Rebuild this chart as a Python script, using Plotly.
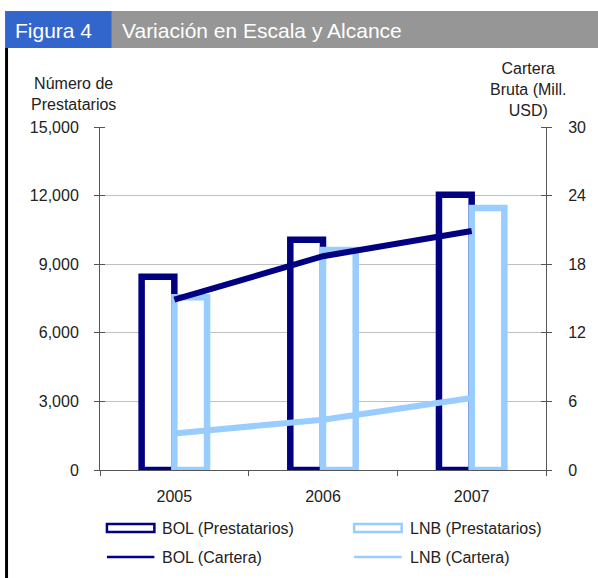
import plotly.graph_objects as go

# ---- data ----
years = ["2005", "2006", "2007"]
bol_prestatarios = [8450, 10070, 12040]
lnb_prestatarios = [7560, 9620, 11460]
bol_cartera = [14.9, 18.7, 20.9]
lnb_cartera = [3.2, 4.4, 6.3]
left_ticks = [0, 3000, 6000, 9000, 12000, 15000]
right_ticks = [0, 6, 12, 18, 24, 30]

NAVY = "#000080"
LIGHT = "#99ccff"
FONT = "Liberation Sans, Arial, sans-serif"
TXT = "#222222"
AX = "#555555"

W, H = 598, 578
L, R, T, B = 100, 47, 127, 108
PW = W - L - R
PH = H - T - B


def px(x):
    return (x - L) / PW


def py(y):
    return (H - B - y) / PH


fig = go.Figure()
fig.add_trace(go.Bar(x=years, y=bol_prestatarios, name="BOL (Prestatarios)",
                     marker=dict(color="white", line=dict(color=NAVY, width=6.5)),
                     yaxis="y"))
fig.add_trace(go.Bar(x=years, y=lnb_prestatarios, name="LNB (Prestatarios)",
                     marker=dict(color="white", line=dict(color=LIGHT, width=6.5)),
                     yaxis="y"))
fig.add_trace(go.Scatter(x=years, y=lnb_cartera, name="LNB (Cartera)", mode="lines",
                         line=dict(color=LIGHT, width=6), yaxis="y2"))
fig.add_trace(go.Scatter(x=years, y=bol_cartera, name="BOL (Cartera)", mode="lines",
                         line=dict(color=NAVY, width=6), yaxis="y2"))

shapes = []
annotations = []

# title bar
shapes.append(dict(type="rect", xref="paper", yref="paper", x0=px(4), x1=px(112), y0=py(11), y1=py(48),
                   fillcolor="#3366cc", line=dict(width=0), layer="below"))
shapes.append(dict(type="rect", xref="paper", yref="paper", x0=px(112), x1=px(620), y0=py(11), y1=py(48),
                   fillcolor="#969696", line=dict(width=0), layer="below"))
# left black border
shapes.append(dict(type="rect", xref="paper", yref="paper", x0=px(4), x1=px(7), y0=py(48), y1=py(590),
                   fillcolor="black", line=dict(width=0), layer="below"))

annotations.append(dict(text="Figura 4", xref="paper", yref="paper", x=px(12), y=py(30),
                        xanchor="left", yanchor="middle", showarrow=False,
                        font=dict(family=FONT, size=21, color="white")))
annotations.append(dict(text="Variación en Escala y Alcance", xref="paper", yref="paper", x=px(120), y=py(30),
                        xanchor="left", yanchor="middle", showarrow=False,
                        font=dict(family=FONT, size=21, color="white")))

# axis titles
annotations.append(dict(text="Número de<br>Prestatarios", xref="paper", yref="paper", x=px(73.5), y=py(94),
                        xanchor="center", yanchor="middle", showarrow=False, align="center",
                        font=dict(family=FONT, size=16, color=TXT)))
annotations.append(dict(text="Cartera<br>Bruta (Mill.<br>USD)", xref="paper", yref="paper", x=px(533), y=py(89),
                        xanchor="center", yanchor="middle", showarrow=False, align="center",
                        font=dict(family=FONT, size=16, color=TXT)))

# manual legend
legend_items = [
    ("BOL (Prestatarios)", NAVY, "rect", 107, 528),
    ("LNB (Prestatarios)", LIGHT, "rect", 357, 528),
    ("BOL (Cartera)", NAVY, "line", 107, 557),
    ("LNB (Cartera)", LIGHT, "line", 357, 557),
]
for label, col, kind, lx, ly in legend_items:
    if kind == "rect":
        shapes.append(dict(type="rect", xref="paper", yref="paper", x0=px(lx), x1=px(lx + 48),
                           y0=py(ly - 4), y1=py(ly + 4), fillcolor="white",
                           line=dict(color=col, width=2.5)))
    else:
        shapes.append(dict(type="line", xref="paper", yref="paper", x0=px(lx), x1=px(lx + 48),
                           y0=py(ly), y1=py(ly), line=dict(color=col, width=2.5)))
    annotations.append(dict(text=label, xref="paper", yref="paper", x=px(lx + 54), y=py(ly),
                            xanchor="left", yanchor="middle", showarrow=False,
                            font=dict(family=FONT, size=16, color=TXT)))

fig.update_layout(
    width=W, height=H,
    margin=dict(l=L, r=R, t=T, b=B, pad=0),
    paper_bgcolor="white", plot_bgcolor="white",
    barmode="group", bargap=0.56, bargroupgap=0,
    showlegend=False,
    font=dict(family=FONT, size=16, color=TXT),
    xaxis=dict(type="category", showline=True, linecolor=AX, linewidth=1,
               ticks="outside", ticklen=5, tickcolor=AX, tickson="boundaries",
               showgrid=False, ticklabelstandoff=12,
               tickfont=dict(family=FONT, size=16, color=TXT)),
    yaxis=dict(range=[0, 15000], tickvals=left_ticks, tickformat=",d",
               showline=True, linecolor=AX, linewidth=1,
               ticks="outside", ticklen=5, tickcolor=AX,
               minor=dict(tickvals=left_ticks, ticks="inside", ticklen=5, tickcolor=AX, showgrid=False),
               showgrid=True, gridcolor="#c0c0c0", gridwidth=1, zeroline=False,
               ticklabelstandoff=12,
               tickfont=dict(family=FONT, size=16, color=TXT)),
    yaxis2=dict(range=[0, 30], tickvals=right_ticks, overlaying="y", side="right",
                showline=True, linecolor=AX, linewidth=1,
                ticks="outside", ticklen=5, tickcolor=AX,
                minor=dict(tickvals=right_ticks, ticks="inside", ticklen=5, tickcolor=AX, showgrid=False),
                showgrid=False, zeroline=False, ticklabelstandoff=13,
                tickfont=dict(family=FONT, size=16, color=TXT)),
    shapes=shapes,
    annotations=annotations,
)

fig.write_html("out.html", config={"displayModeBar": False},
               post_script="document.body.style.margin='0';document.body.style.overflow='hidden';")
